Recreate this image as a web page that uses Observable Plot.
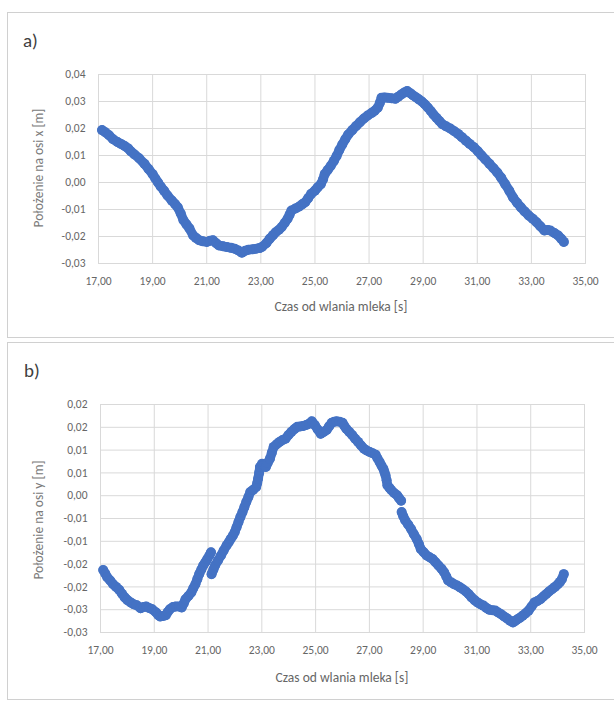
<!DOCTYPE html>
<html><head><meta charset="utf-8">
<script src="https://cdn.jsdelivr.net/npm/d3@7"></script>
<script src="https://cdn.jsdelivr.net/npm/@observablehq/plot@0.6"></script>
<style>
body{margin:0;background:#fff;font-family:Carlito,Calibri,Lato,sans-serif;}
#root{position:relative;width:614px;height:701px;overflow:hidden;background:#fff;}
.panel{position:absolute;left:7px;width:620px;border:1px solid #d0d0d0;box-sizing:border-box;}
.tag{position:absolute;font-size:19px;color:#404040;line-height:1;}
.xt{position:absolute;font-size:13.5px;color:#666;transform:translate(-50%,-50%);white-space:nowrap;line-height:1;}
.yt{position:absolute;font-size:13.5px;color:#7a7a7a;transform:translate(-50%,-50%) rotate(-90deg);white-space:nowrap;line-height:1;}
.chart{position:absolute;left:0;}
</style></head><body>
<div id="root">
  <div class="panel" style="top:12px;height:326px;"></div>
  <div class="panel" style="top:342px;height:358px;"></div>
  <div class="tag" style="left:23px;top:31px;">a)</div>
  <div class="tag" style="left:24px;top:361px;">b)</div>
  <div id="chartA" class="chart" style="top:0px;"></div>
  <div id="chartB" class="chart" style="top:340px;"></div>
  <div class="xt" style="left:341px;top:307px;">Czas od wlania mleka [s]</div>
  <div class="xt" style="left:342px;top:678px;">Czas od wlania mleka [s]</div>
  <div class="yt" style="left:39px;top:168px;">Położenie na osi x [m]</div>
  <div class="yt" style="left:39px;top:520px;">Położenie na osi y [m]</div>
</div>
<script>
// x-axis ticks (time, s)
const xTicks = [17, 19, 21, 23, 25, 27, 29, 31, 33, 35];
const xTickLabels = ["17,00","19,00","21,00","23,00","25,00","27,00","29,00","31,00","33,00","35,00"];

// panel a y ticks
const yTicksA = [-0.03, -0.02, -0.01, 0, 0.01, 0.02, 0.03, 0.04];
const yTickLabelsA = ["-0,03","-0,02","-0,01","0,00","0,01","0,02","0,03","0,04"];

// panel b y ticks (step 0.005, labels rounded to 2 decimals as in source)
const yTicksB = [-0.03, -0.025, -0.02, -0.015, -0.01, -0.005, 0, 0.005, 0.01, 0.015, 0.02];
const yTickLabelsB = ["-0,03","-0,03","-0,02","-0,02","-0,01","-0,01","0,00","0,01","0,01","0,02","0,02"];

// panel a: position on x axis [m] vs time [s]
const posX = [
[17.13,0.0194],[17.25,0.0186],[17.39,0.0175],[17.54,0.016],[17.7,0.015],[17.83,0.0143],[17.97,0.0135],[18.1,0.0126],[18.2,0.0115],[18.33,0.0104],[18.5,0.009],[18.7,0.0069],[18.85,0.005],[19.0,0.0031],[19.1,0.0015],[19.2,0.0],[19.3,-0.0015],[19.42,-0.003],[19.55,-0.0048],[19.71,-0.0067],[19.83,-0.008],[19.93,-0.0092],[20.04,-0.0115],[20.14,-0.014],[20.25,-0.0155],[20.36,-0.017],[20.5,-0.0196],[20.6,-0.0205],[20.72,-0.0214],[20.86,-0.0218],[21.0,-0.022],[21.12,-0.0216],[21.23,-0.0214],[21.35,-0.0225],[21.45,-0.0233],[21.6,-0.0236],[21.74,-0.0239],[21.9,-0.0242],[22.03,-0.0245],[22.17,-0.0252],[22.3,-0.026],[22.42,-0.0253],[22.54,-0.0249],[22.7,-0.0247],[22.83,-0.0245],[22.95,-0.0243],[23.04,-0.0239],[23.2,-0.0225],[23.33,-0.0208],[23.45,-0.0195],[23.55,-0.0184],[23.67,-0.0175],[23.77,-0.0165],[23.88,-0.015],[23.99,-0.0134],[24.06,-0.012],[24.13,-0.0104],[24.28,-0.0096],[24.42,-0.0089],[24.54,-0.008],[24.64,-0.0073],[24.75,-0.0058],[24.86,-0.0042],[25.0,-0.003],[25.1,-0.0018],[25.22,-0.0006],[25.3,0.0012],[25.36,0.0031],[25.47,0.0046],[25.58,0.0061],[25.7,0.008],[25.8,0.0098],[25.9,0.012],[26.01,0.0141],[26.12,0.016],[26.23,0.0178],[26.38,0.0194],[26.52,0.0209],[26.66,0.0223],[26.81,0.0237],[26.95,0.0248],[27.1,0.0258],[27.2,0.0265],[27.32,0.0277],[27.4,0.0295],[27.46,0.0314],[27.57,0.0315],[27.68,0.0314],[27.82,0.0312],[27.97,0.031],[28.08,0.0318],[28.19,0.0326],[28.3,0.0333],[28.41,0.0339],[28.52,0.0331],[28.62,0.0323],[28.73,0.0316],[28.84,0.0308],[28.95,0.03],[29.06,0.029],[29.17,0.0278],[29.28,0.0265],[29.38,0.0252],[29.49,0.024],[29.6,0.0228],[29.71,0.0216],[29.85,0.0208],[30.0,0.02],[30.15,0.019],[30.29,0.018],[30.43,0.0168],[30.58,0.0155],[30.72,0.0143],[30.87,0.0131],[31.02,0.0116],[31.16,0.01],[31.3,0.0085],[31.45,0.0069],[31.6,0.0053],[31.74,0.0037],[31.88,0.0018],[32.03,-0.0006],[32.18,-0.003],[32.32,-0.0055],[32.47,-0.0075],[32.61,-0.0092],[32.75,-0.0107],[32.9,-0.0122],[33.05,-0.0134],[33.19,-0.0147],[33.33,-0.0162],[33.48,-0.0178],[33.6,-0.0176],[33.7,-0.0178],[33.85,-0.0187],[33.99,-0.0196],[34.1,-0.0208],[34.2,-0.022]
];

// panel b: position on y axis [m] vs time [s], three continuous segments
const posYSeg1 = [
[17.1,-0.0163],[17.18,-0.0171],[17.25,-0.0179],[17.36,-0.0186],[17.47,-0.0194],[17.58,-0.02],[17.69,-0.0206],[17.8,-0.0215],[17.9,-0.0223],[18.0,-0.0229],[18.12,-0.0234],[18.23,-0.0238],[18.34,-0.024],[18.49,-0.0247],[18.6,-0.0244],[18.7,-0.0243],[18.8,-0.0246],[18.92,-0.0249],[19.07,-0.0256],[19.15,-0.0262],[19.22,-0.0265],[19.33,-0.0264],[19.43,-0.0262],[19.5,-0.0255],[19.58,-0.0249],[19.7,-0.0244],[19.8,-0.0243],[19.92,-0.0243],[20.02,-0.0245],[20.1,-0.0236],[20.16,-0.0227],[20.27,-0.022],[20.38,-0.0212],[20.45,-0.0203],[20.53,-0.0194],[20.6,-0.0183],[20.67,-0.0172],[20.75,-0.0162],[20.82,-0.0153],[20.9,-0.0146],[20.97,-0.0139],[21.05,-0.0131],[21.11,-0.0124]
];
const posYSeg2 = [
[21.13,-0.0172],[21.2,-0.0162],[21.26,-0.0153],[21.37,-0.0142],[21.48,-0.0131],[21.58,-0.012],[21.69,-0.0109],[21.77,-0.0102],[21.84,-0.0095],[21.92,-0.0088],[21.99,-0.008],[22.06,-0.0069],[22.13,-0.0058],[22.2,-0.0047],[22.28,-0.0036],[22.35,-0.0025],[22.42,-0.0014],[22.5,-0.0003],[22.57,0.0008],[22.68,0.0013],[22.79,0.0019],[22.83,0.0028],[22.86,0.0037],[22.9,0.005],[22.93,0.0063],[23.01,0.007],[23.08,0.0067],[23.15,0.0063],[23.22,0.0072],[23.3,0.0081],[23.37,0.0094],[23.44,0.0107],[23.55,0.0113],[23.66,0.0118],[23.77,0.0122],[23.88,0.0125],[23.99,0.0133],[24.1,0.014],[24.21,0.0146],[24.32,0.0151],[24.43,0.0152],[24.54,0.0153],[24.65,0.0155],[24.76,0.0158],[24.86,0.0163],[24.97,0.0155],[25.08,0.0145],[25.19,0.0136],[25.3,0.014],[25.41,0.0144],[25.5,0.0152],[25.6,0.016],[25.69,0.0162],[25.78,0.0163],[25.89,0.0162],[26.0,0.016],[26.07,0.0153],[26.14,0.0147],[26.25,0.014],[26.36,0.0133],[26.47,0.0125],[26.58,0.0118],[26.69,0.011],[26.8,0.0103],[26.9,0.0099],[27.01,0.0096],[27.12,0.0093],[27.23,0.009],[27.3,0.0082],[27.38,0.0074],[27.45,0.0066],[27.52,0.0059],[27.56,0.0052],[27.6,0.0045],[27.64,0.0034],[27.67,0.0023],[27.75,0.0017],[27.82,0.0012],[27.92,0.0006],[28.03,0.0001],[28.1,-0.0005],[28.18,-0.0011]
];
const posYSeg3 = [
[28.2,-0.0036],[28.26,-0.0045],[28.33,-0.0054],[28.44,-0.0063],[28.55,-0.0073],[28.65,-0.0084],[28.76,-0.0095],[28.84,-0.0106],[28.91,-0.0117],[29.02,-0.0124],[29.13,-0.0131],[29.24,-0.0135],[29.35,-0.0139],[29.46,-0.0146],[29.57,-0.0153],[29.68,-0.016],[29.78,-0.0168],[29.86,-0.0177],[29.93,-0.0186],[30.04,-0.019],[30.15,-0.0194],[30.26,-0.0197],[30.37,-0.0201],[30.48,-0.0205],[30.59,-0.021],[30.7,-0.0216],[30.8,-0.0223],[30.91,-0.0229],[31.02,-0.0234],[31.13,-0.0238],[31.24,-0.0241],[31.35,-0.0246],[31.46,-0.025],[31.57,-0.0251],[31.68,-0.0252],[31.79,-0.0256],[31.9,-0.026],[32.01,-0.0265],[32.12,-0.0269],[32.23,-0.0274],[32.34,-0.0278],[32.41,-0.0275],[32.48,-0.0272],[32.59,-0.0268],[32.7,-0.0263],[32.81,-0.0258],[32.92,-0.0252],[33.03,-0.0243],[33.14,-0.0234],[33.25,-0.0231],[33.36,-0.0227],[33.47,-0.0221],[33.57,-0.0216],[33.68,-0.021],[33.79,-0.0205],[33.9,-0.02],[34.01,-0.0194],[34.09,-0.0189],[34.16,-0.0183],[34.23,-0.0172]
];

const toRows = (arr, seg) => arr.map(([t, v]) => ({t, v, seg}));
const dataA = toRows(posX, 1);
const dataB = [...toRows(posYSeg1, 1), ...toRows(posYSeg2, 2), ...toRows(posYSeg3, 3)];

const xLabelMap = new Map(xTicks.map((d, i) => [d, xTickLabels[i]]));
const BLUE = "#4472c4";
const GRID = "#d9d9d9";
const FONT = "Carlito, Calibri, Lato, sans-serif";

function chart({data, yDomain, yTicks, yLabels, height, marginTop, marginBottom, marginLeft, marginRight}) {
  const yLabelMap = new Map(yTicks.map((d, i) => [d, yLabels[i]]));
  return Plot.plot({
    width: 614, height, marginTop, marginBottom, marginLeft, marginRight,
    x: {domain: [17, 35]},
    y: {domain: yDomain},
    style: {background: "transparent", color: "#666", fontFamily: FONT, fontSize: "11.5px", overflow: "visible"},
    marks: [
      Plot.gridX(xTicks, {stroke: GRID, strokeOpacity: 1}),
      Plot.gridY(yTicks, {stroke: GRID, strokeOpacity: 1}),
      Plot.frame({stroke: GRID}),
      Plot.axisX(xTicks, {tickFormat: d => xLabelMap.get(d), tickSize: 0, tickPadding: 13, label: null, fontSize: 11.5}),
      Plot.axisY(yTicks, {tickFormat: d => yLabelMap.get(d), tickSize: 0, tickPadding: 13, label: null, fontSize: 11.5}),
      Plot.line(data, {x: "t", y: "v", z: "seg", stroke: BLUE, strokeWidth: 9.5, strokeLinejoin: "round", strokeLinecap: "round"}),
      Plot.dot(data, {x: "t", y: "v", r: 5, fill: BLUE})
    ]
  });
}

document.getElementById("chartA").appendChild(chart({
  data: dataA, yDomain: [-0.03, 0.04], yTicks: yTicksA, yLabels: yTickLabelsA,
  height: 335, marginTop: 74, marginBottom: 72, marginLeft: 98, marginRight: 29
}));
document.getElementById("chartB").appendChild(chart({
  data: dataB, yDomain: [-0.03, 0.02], yTicks: yTicksB, yLabels: yTickLabelsB,
  height: 360, marginTop: 64, marginBottom: 68, marginLeft: 100, marginRight: 30
}));
</script>
</body></html>
